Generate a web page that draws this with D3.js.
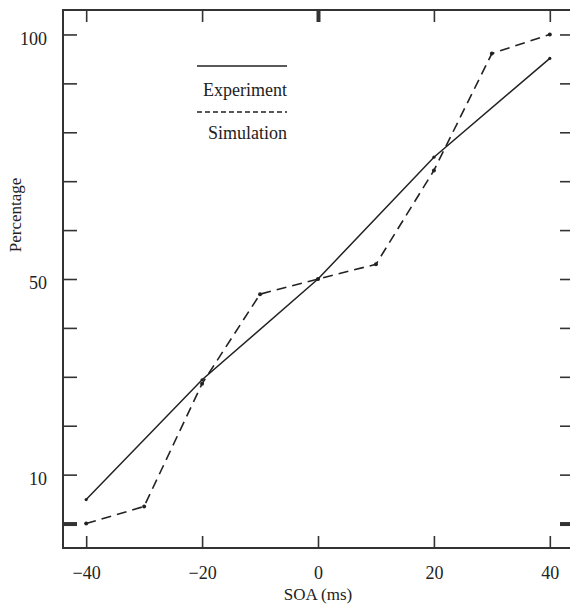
<!DOCTYPE html>
<html>
<head>
<meta charset="utf-8">
<script src="https://cdn.jsdelivr.net/npm/d3@7"></script>
<style>
	body { margin: 0; background: #fff; }
	svg { font-family: "Liberation Serif", "DejaVu Serif", serif; fill: #222; }
	.frame { fill: none; stroke: #333; stroke-width: 2; }
	.tick line { stroke: #333; stroke-width: 1.6; }
	.tick text { font-size: 18px; fill: #222; font-family: "Liberation Serif", serif; }
	.domain { display: none; }
</style>
</head>
<body>
<svg id="chart" width="570" height="607"></svg>
<script>
(function () {
	//DATA
	var soa = [-40, -30, -20, -10, 0, 10, 20, 30, 40];
	var experimentSoa = [-40, -20, 0, 20, 40];
	var experiment = [4.9, 29.4, 50, 74.9, 95.1];
	var simulation = [0, 3.5, 28.6, 46.9, 50, 53, 72.2, 96.1, 100];
	var xTicks = [-40, -20, 0, 20, 40];
	var yTicks = [0, 10, 20, 30, 40, 50, 60, 70, 80, 90, 100];
	var yLabels = { 10: "10", 50: "50", 100: "100" };
	var legend = ["Experiment", "Simulation"];

	var svg, x, y, left, right, top, bottom;
	left = 63; right = 573; top = 10; bottom = 548;
	svg = d3.select("#chart");

	x = d3.scaleLinear().domain([-44, 44]).range([left, right]);
	y = d3.scaleLinear().domain([-5, 105]).range([bottom, top]);

	// frame
	svg.append("rect").attr("class", "frame")
		.attr("x", left).attr("y", top)
		.attr("width", right - left).attr("height", bottom - top);

	// bottom axis with inward ticks
	svg.append("g").attr("transform", "translate(0," + bottom + ")")
		.call(d3.axisBottom(x).tickValues(xTicks).tickSizeInner(-12).tickSizeOuter(0)
			.tickPadding(18).tickFormat(function (d) { return d < 0 ? "\u2212" + (-d) : d; }))
		.attr("font-family", null);

	// top axis, no labels
	svg.append("g").attr("transform", "translate(0," + top + ")")
		.call(d3.axisTop(x).tickValues(xTicks).tickSizeInner(-12).tickSizeOuter(0).tickFormat(""))
		.selectAll(".tick line")
		.style("stroke-width", function (d) { return d === 0 ? 4 : 1.6; });

	// left axis
	svg.append("g").attr("transform", "translate(" + left + ",0)")
		.call(d3.axisLeft(y).tickValues(yTicks).tickSizeInner(-14).tickSizeOuter(0)
			.tickPadding(16).tickFormat(function (d) { return yLabels[d] || ""; }))
		.attr("font-family", null)
		.call(function (g) {
			g.selectAll(".tick text").attr("dy", "0.55em");
			g.selectAll(".tick line").style("stroke-width", function (d) { return d === 0 ? 4 : 1.6; });
		});

	// right axis
	svg.append("g").attr("transform", "translate(" + right + ",0)")
		.call(d3.axisRight(y).tickValues(yTicks).tickSizeInner(-13).tickSizeOuter(0).tickFormat(""))
		.selectAll(".tick line")
		.style("stroke-width", function (d) { return d === 0 ? 4 : 1.6; });

	// axis titles
	svg.append("text").text("SOA (ms)")
		.attr("x", x(0)).attr("y", 600)
		.attr("text-anchor", "middle").style("font-size", "17px");
	svg.append("text").text("Percentage")
		.attr("transform", "translate(21," + 215 + ") rotate(-90)")
		.attr("text-anchor", "middle").style("font-size", "17px");

	// lines
	var line = d3.line()
		.x(function (d) { return x(d[0]); })
		.y(function (d) { return y(d[1]); });

	var expData = d3.zip(experimentSoa, experiment);
	var simData = d3.zip(soa, simulation);

	svg.append("path").datum(expData)
		.attr("d", line)
		.style("fill", "none").style("stroke", "#222").style("stroke-width", 1.5);

	svg.append("path").datum(simData)
		.attr("d", line)
		.style("fill", "none").style("stroke", "#222").style("stroke-width", 1.6)
		.style("stroke-dasharray", "10,6");

	svg.selectAll("circle.sim").data(simData).enter().append("circle")
		.attr("class", "sim")
		.attr("cx", function (d) { return x(d[0]); })
		.attr("cy", function (d) { return y(d[1]); })
		.attr("r", 2).style("fill", "#222");

	svg.selectAll("circle.exp").data(expData).enter().append("circle")
		.attr("class", "exp")
		.attr("cx", function (d) { return x(d[0]); })
		.attr("cy", function (d) { return y(d[1]); })
		.attr("r", 1.6).style("fill", "#222");

	// legend
	var lg = svg.append("g").attr("class", "legend");
	lg.selectAll("line").data(legend).enter().append("line")
		.attr("x1", 197).attr("x2", 287)
		.attr("y1", function (d, i) { return 66 + 46 * i; })
		.attr("y2", function (d, i) { return 66 + 46 * i; })
		.style("stroke", "#222")
		.style("stroke-width", 1.6)
		.style("stroke-dasharray", function (d, i) { return i ? "5,3" : null; });
	lg.selectAll("text").data(legend).enter().append("text")
		.text(function (d) { return d; })
		.attr("x", 287)
		.attr("y", function (d, i) { return 96 + 43 * i; })
		.attr("text-anchor", "end")
		.style("font-size", "18px");
})();
</script>
</body>
</html>
